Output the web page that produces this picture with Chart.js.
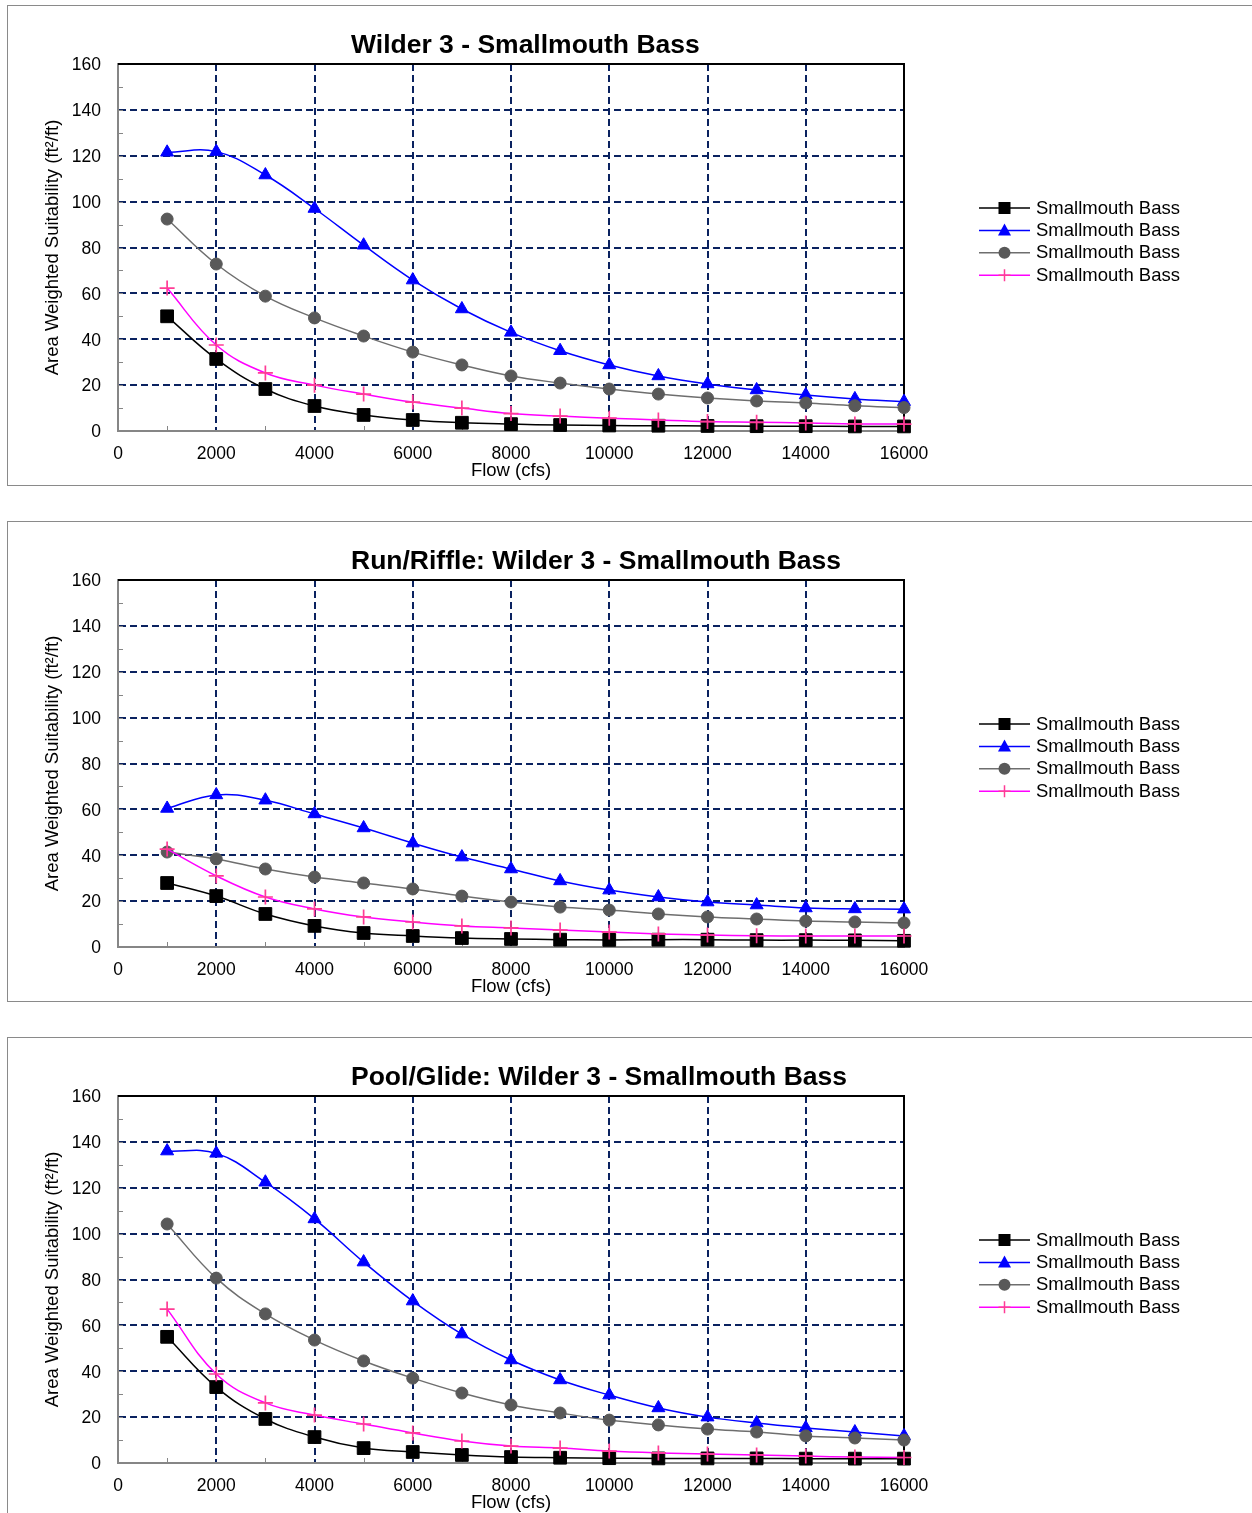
<!DOCTYPE html>
<html><head><meta charset="utf-8">
<script src="https://cdn.jsdelivr.net/npm/chart.js@4.4.0/dist/chart.umd.min.js"></script>
<style>
html,body{margin:0;padding:0;background:#fff;}
body{width:1252px;height:1513px;position:relative;overflow:hidden;}
.box{position:absolute;left:7px;width:1270px;height:481px;border:1px solid #8a8a8a;box-sizing:border-box;}
canvas.cv{position:absolute;left:0;}
</style></head><body>
<div class="box" style="top:5px"></div>
<div class="box" style="top:521px"></div>
<div class="box" style="top:1037px"></div>
<canvas class="cv" id="c0" width="1252" height="516" style="top:0px"></canvas>
<canvas class="cv" id="c1" width="1252" height="516" style="top:516px"></canvas>
<canvas class="cv" id="c2" width="1252" height="516" style="top:1032px"></canvas>
<script>
// ---------- data ----------
const flows = [1000,2000,3000,4000,5000,6000,7000,8000,9000,10000,11000,12000,13000,14000,15000,16000];

const titles = ["Wilder 3 - Smallmouth Bass", "Run/Riffle: Wilder 3 - Smallmouth Bass", "Pool/Glide: Wilder 3 - Smallmouth Bass"];
const seriesNames = ["Smallmouth Bass","Smallmouth Bass","Smallmouth Bass","Smallmouth Bass"];
const yAxisTitle = "Area Weighted Suitability (ft\u00B2/ft)";
const xAxisTitle = "Flow (cfs)";

const yTicks = [0,20,40,60,80,100,120,140,160];
const xTicks = [0,2000,4000,6000,8000,10000,12000,14000,16000];
const yMinor = [10,30,50,70,90,110,130,150,20,40,60,80,100,120,140];
const xMinor = [1000,3000,5000,7000,9000,11000,13000,15000];

// Chart 1: Wilder 3 (total)
const c1Black = [50, 31.4, 18.3, 10.9, 7.0, 4.8, 3.6, 3.0, 2.6, 2.4, 2.3, 2.2, 2.1, 2.1, 2.0, 2.0];
const c1Blue  = [121.5, 121.8, 111.6, 97, 81, 65.8, 53.2, 43, 35, 28.8, 24, 20.5, 17.9, 15.7, 14, 12.8];
const c1Gray  = [92.4, 72.8, 58.8, 49.3, 41.4, 34.4, 28.8, 24.0, 20.9, 18.3, 16.1, 14.4, 13.1, 12.2, 11.0, 10.2];
const c1Pink  = [62.3, 37.5, 25.3, 20.0, 16.1, 12.6, 10.0, 7.6, 6.5, 5.6, 4.8, 4.1, 3.8, 3.5, 3.1, 3.0];

// Chart 2: Run/Riffle
const c2Black = [27.9, 22.2, 14.4, 9.2, 6.1, 4.8, 3.9, 3.5, 3.2, 3.1, 3.2, 3.2, 3.0, 3.0, 2.9, 2.7];
const c2Blue  = [60.4, 66.3, 64, 58, 51.9, 45.3, 39.2, 34, 28.8, 24.8, 21.8, 19.6, 18.3, 17.0, 16.6, 16.5];
const c2Gray  = [41.4, 38.4, 34, 30.5, 27.9, 25.3, 22.2, 19.6, 17.4, 16.1, 14.4, 13.1, 12.2, 11.3, 10.9, 10.5];
const c2Pink  = [42.7, 31, 21.8, 16.6, 13.1, 10.9, 9.2, 8.3, 7.4, 6.5, 5.7, 5.2, 4.9, 4.8, 4.8, 4.8];

// Chart 3: Pool/Glide
const c3Black = [55, 33.1, 19.2, 11.3, 6.5, 4.8, 3.5, 2.6, 2.3, 2.1, 2.0, 2.0, 2.0, 1.9, 1.9, 1.9];
const c3Blue  = [136, 135, 122.4, 106.4, 87.6, 70.6, 56.2, 44.9, 36.2, 29.6, 24, 20, 17.4, 15.3, 13.5, 11.8];
const c3Gray  = [104.2, 80.6, 65, 53.6, 44.5, 37, 30.5, 25.3, 21.8, 18.7, 16.6, 14.8, 13.5, 11.8, 10.9, 10.0];
const c3Pink  = [67.1, 38.8, 26.2, 20.9, 17, 13.1, 9.6, 7.4, 6.5, 5.2, 4.4, 3.9, 3.5, 3.0, 2.6, 2.4];

const allSeries = [
  [c1Black, c1Blue, c1Gray, c1Pink],
  [c2Black, c2Blue, c2Gray, c2Pink],
  [c3Black, c3Blue, c3Gray, c3Pink]
];

// ---------- styles ----------
const FONT = '"Liberation Sans", Arial, Helvetica, sans-serif';
const GRID = '#0a2260';
const AXIS = '#868686';
const styles = [
  {line:'#000000', mark:'#000000', style:'rect', r:9, order:4},
  {line:'#0000ff', mark:'#0000ff', style:'triangle', r:7.5, order:3},
  {line:'#6e6e6e', mark:'#595959', style:'circle', r:6, order:2},
  {line:'#ff00ff', mark:'#ff3c96', style:'cross', r:7.5, order:1}
];

function drawMarker(ctx, kind, x, y, color){
  ctx.save();
  ctx.fillStyle = color; ctx.strokeStyle = color;
  if (kind === 'rect') { ctx.fillRect(x-6, y-6, 12, 12); }
  else if (kind === 'triangle') { ctx.beginPath(); ctx.moveTo(x, y-7); ctx.lineTo(x+6.5, y+5); ctx.lineTo(x-6.5, y+5); ctx.closePath(); ctx.fill(); }
  else if (kind === 'circle') { ctx.beginPath(); ctx.arc(x, y, 6, 0, Math.PI*2); ctx.fill(); }
  else { ctx.lineWidth = 1.5; ctx.beginPath(); ctx.moveTo(x-6, y); ctx.lineTo(x+6, y); ctx.moveTo(x, y-6); ctx.lineTo(x, y+6); ctx.stroke(); }
  ctx.restore();
}

const decor = {
  id: 'decor',
  beforeDatasetsDraw(chart) {
    const {ctx, chartArea: a} = chart;
    const xs = chart.scales.x, ys = chart.scales.y;
    ctx.save();
    ctx.strokeStyle = AXIS; ctx.lineWidth = 1;
    ctx.beginPath();
    yMinor.forEach(v => { const y = Math.round(ys.getPixelForValue(v)) + 0.5; ctx.moveTo(a.left, y); ctx.lineTo(a.left + 5, y); });
    xMinor.forEach(v => { const x = Math.round(xs.getPixelForValue(v)) + 0.5; ctx.moveTo(x, a.bottom); ctx.lineTo(x, a.bottom - 5); });
    ctx.stroke();
    ctx.strokeStyle = '#000'; ctx.lineWidth = 2;
    ctx.beginPath();
    ctx.moveTo(a.left, a.top); ctx.lineTo(a.right, a.top); ctx.lineTo(a.right, a.bottom);
    ctx.stroke();
    ctx.restore();
  },
  afterDraw(chart, args, opts) {
    const {ctx, chartArea: a} = chart;
    ctx.save();
    ctx.fillStyle = '#000';
    // title
    ctx.font = 'bold 26.5px ' + FONT;
    ctx.textAlign = 'left'; ctx.textBaseline = 'middle';
    ctx.fillText(opts.title, 351, 45.5);
    // x axis title
    ctx.font = '18.5px ' + FONT;
    ctx.textAlign = 'center';
    ctx.fillText(xAxisTitle, (a.left + a.right) / 2, 471);
    // y axis title
    ctx.save();
    ctx.translate(53, (a.top + a.bottom) / 2);
    ctx.rotate(-Math.PI / 2);
    ctx.fillText(yAxisTitle, 0, 0);
    ctx.restore();
    // legend
    ctx.font = '18.5px ' + FONT;
    ctx.textAlign = 'left';
    seriesNames.forEach((name, i) => {
      const y = 208 + i * 22.4;
      const s = styles[i];
      ctx.strokeStyle = s.line; ctx.lineWidth = 1.5;
      ctx.beginPath(); ctx.moveTo(979, y); ctx.lineTo(1030, y); ctx.stroke();
      drawMarker(ctx, s.style, 1004.5, y, s.mark);
      ctx.fillStyle = '#000';
      ctx.fillText(name, 1036, y + 0.5);
    });
    ctx.restore();
  }
};

function build(id, idx) {
  const series = allSeries[idx];
  const datasets = series.map((arr, i) => {
    const s = styles[i];
    return {
      label: seriesNames[i],
      data: flows.map((x, k) => ({x: x, y: arr[k]})),
      borderColor: s.line,
      borderWidth: 1.5,
      backgroundColor: s.mark,
      pointStyle: s.style,
      pointRadius: s.r,
      pointBackgroundColor: s.mark,
      pointBorderColor: s.mark,
      pointBorderWidth: s.style === 'cross' ? 1.7 : 1,
      tension: 0.4,
      order: s.order,
      clip: false,
      fill: false
    };
  });
  new Chart(document.getElementById(id), {
    type: 'line',
    data: { datasets },
    plugins: [decor],
    options: {
      responsive: false,
      animation: false,
      events: [],
      layout: { padding: { left: 0, top: 64, right: 348, bottom: 0 } },
      plugins: {
        legend: { display: false },
        tooltip: { enabled: false },
        title: { display: false },
        decor: { title: titles[idx] }
      },
      scales: {
        x: {
          type: 'linear', min: 0, max: 16000,
          afterBuildTicks: s => { s.ticks = xTicks.map(v => ({value: v})); },
          afterFit: s => { s.height = 85; },
          ticks: { autoSkip: false, maxRotation: 0, padding: 13, color: '#000',
                   font: { family: FONT, size: 17.5 }, callback: v => String(v) },
          grid: {
            drawTicks: false, lineWidth: 2,
            color: c => (c.tick && (c.tick.value === 0 || c.tick.value === 16000)) ? 'rgba(0,0,0,0)' : GRID
          },
          border: { display: true, color: AXIS, width: 2, dash: [7, 4] }
        },
        y: {
          type: 'linear', min: 0, max: 160,
          afterBuildTicks: s => { s.ticks = yTicks.map(v => ({value: v})); },
          afterFit: s => { s.width = 118; },
          ticks: { padding: 17, labelOffset: 1.5, color: '#000', font: { family: FONT, size: 17.5 },
                   callback: v => String(v) },
          grid: {
            drawTicks: false, lineWidth: 2,
            color: c => (c.tick && (c.tick.value === 0 || c.tick.value === 160)) ? 'rgba(0,0,0,0)' : GRID
          },
          border: { display: true, color: AXIS, width: 2, dash: [7, 4] }
        }
      }
    }
  });
}
build('c0', 0);
build('c1', 1);
build('c2', 2);
</script>
</body></html>
